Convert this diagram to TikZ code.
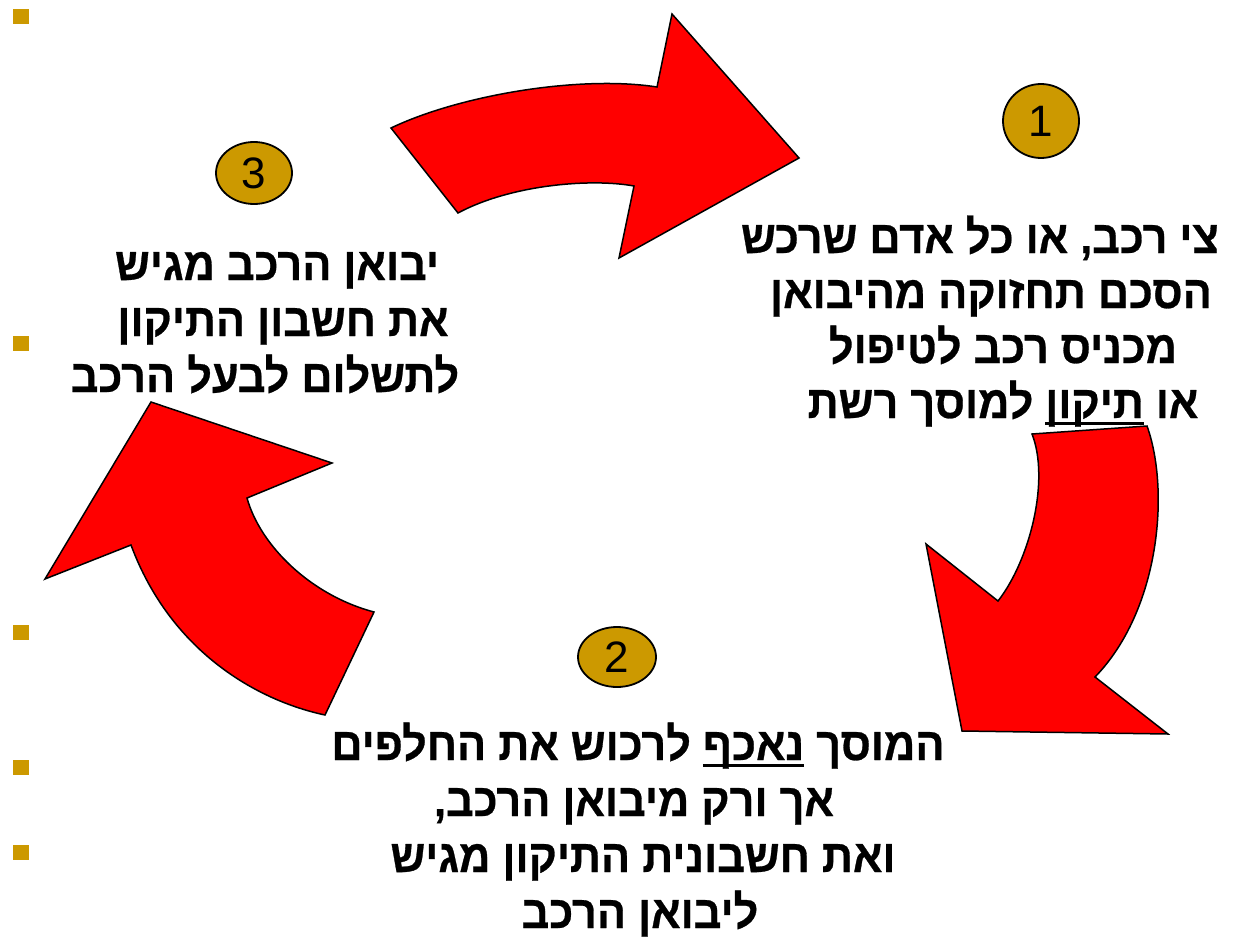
\documentclass[tikz,border=0pt]{standalone}
\usepackage{fontspec}
\usetikzlibrary{shapes.geometric}
\TeXXeTstate=1
\newfontfamily\heb[Script=Hebrew, FakeStretch=0.94, BoldFeatures={FakeBold=0.6}]{Liberation Sans}
\newfontfamily\numfont{Liberation Sans}
\definecolor{gold}{HTML}{CC9900}
\definecolor{arrred}{HTML}{FF0000}
\newcommand\ulw[1]{\vtop{\hbox{\raisebox{0pt}[\height][0pt]{#1}}\kern4pt\hrule height 2.5pt}}
\tikzset{
  hebtxt/.style={anchor=base, inner sep=0pt, font=\heb\bfseries\fontsize{46}{56}\selectfont},
  bignum/.style={ellipse, draw=black, line width=1.8pt, fill=gold, inner sep=0pt, font=\numfont\fontsize{44}{44}\selectfont},
  bulletsq/.style={fill=gold, draw=none, minimum width=16pt, minimum height=15pt, inner sep=0pt},
  redarrow/.style={fill=arrred, draw=black, line width=1.5pt, line join=miter}
}
\begin{document}
\begin{tikzpicture}[x=1pt,y=-1pt]
\useasboundingbox (0,0) rectangle (1238,936);
% bullets
\node[bulletsq] (b1) at (21,17) {};
\node[bulletsq] (b2) at (21,343) {};
\node[bulletsq] (b3) at (21,632) {};
\node[bulletsq] (b4) at (21,767) {};
\node[bulletsq] (b5) at (21,852) {};
% arrow top
\draw[redarrow] (391,128) .. controls (460,95) and (580,75) .. (657,87)
  -- (672,14) -- (799,158) -- (619,258) -- (634,186)
  .. controls (590,178) and (510,185) .. (458,213) -- cycle;
% arrow right
\draw[redarrow] (1032,434) -- (1147,426)
  .. controls (1170,490) and (1160,610) .. (1095,677)
  -- (1168,734) -- (962,731) -- (926,544) -- (998,601)
  .. controls (1030,560) and (1050,480) .. (1032,434) -- cycle;
% arrow left
\draw[redarrow] (151,402) -- (332,463) -- (247,498)
  .. controls (260,545) and (310,595) .. (374,612)
  -- (325,715)
  .. controls (255,700) and (170,650) .. (131,545)
  -- (45,579) -- cycle;
% numbered ellipses
\node[bignum, minimum width=76pt, minimum height=74pt] (n1) at (1041,121) {1};
\node[bignum, minimum width=76pt, minimum height=62pt] (n3) at (254,173) {3};
\node[bignum, minimum width=78pt, minimum height=60pt] (n2) at (617,657) {2};
% right text
\node[hebtxt] (r1) at (980,253) {\beginR צי רכב, או כל אדם שרכש\endR};
\node[hebtxt] (r2) at (991,308) {\beginR הסכם תחזוקה מהיבואן\endR};
\node[hebtxt] (r3) at (1003,363) {\beginR מכניס רכב לטיפול\endR};
\node[hebtxt] (r4) at (1003,418) {\beginR או \ulw{תיקון} למוסך רשת\endR};
% left text
\node[hebtxt] (l1) at (277,280) {\beginR יבואן הרכב מגיש\endR};
\node[hebtxt] (l2) at (283,336) {\beginR את חשבון התיקון\endR};
\node[hebtxt] (l3) at (265,392) {\beginR לתשלום לבעל הרכב\endR};
% bottom text
\node[hebtxt] (m1) at (638,760) {\beginR המוסך \ulw{נאכף} לרכוש את החלפים\endR};
\node[hebtxt] (m2) at (634,816) {\beginR אך ורק מיבואן הרכב,\endR};
\node[hebtxt] (m3) at (643,872) {\beginR ואת חשבונית התיקון מגיש\endR};
\node[hebtxt] (m4) at (640,928) {\beginR ליבואן הרכב\endR};
\end{tikzpicture}
\end{document}
